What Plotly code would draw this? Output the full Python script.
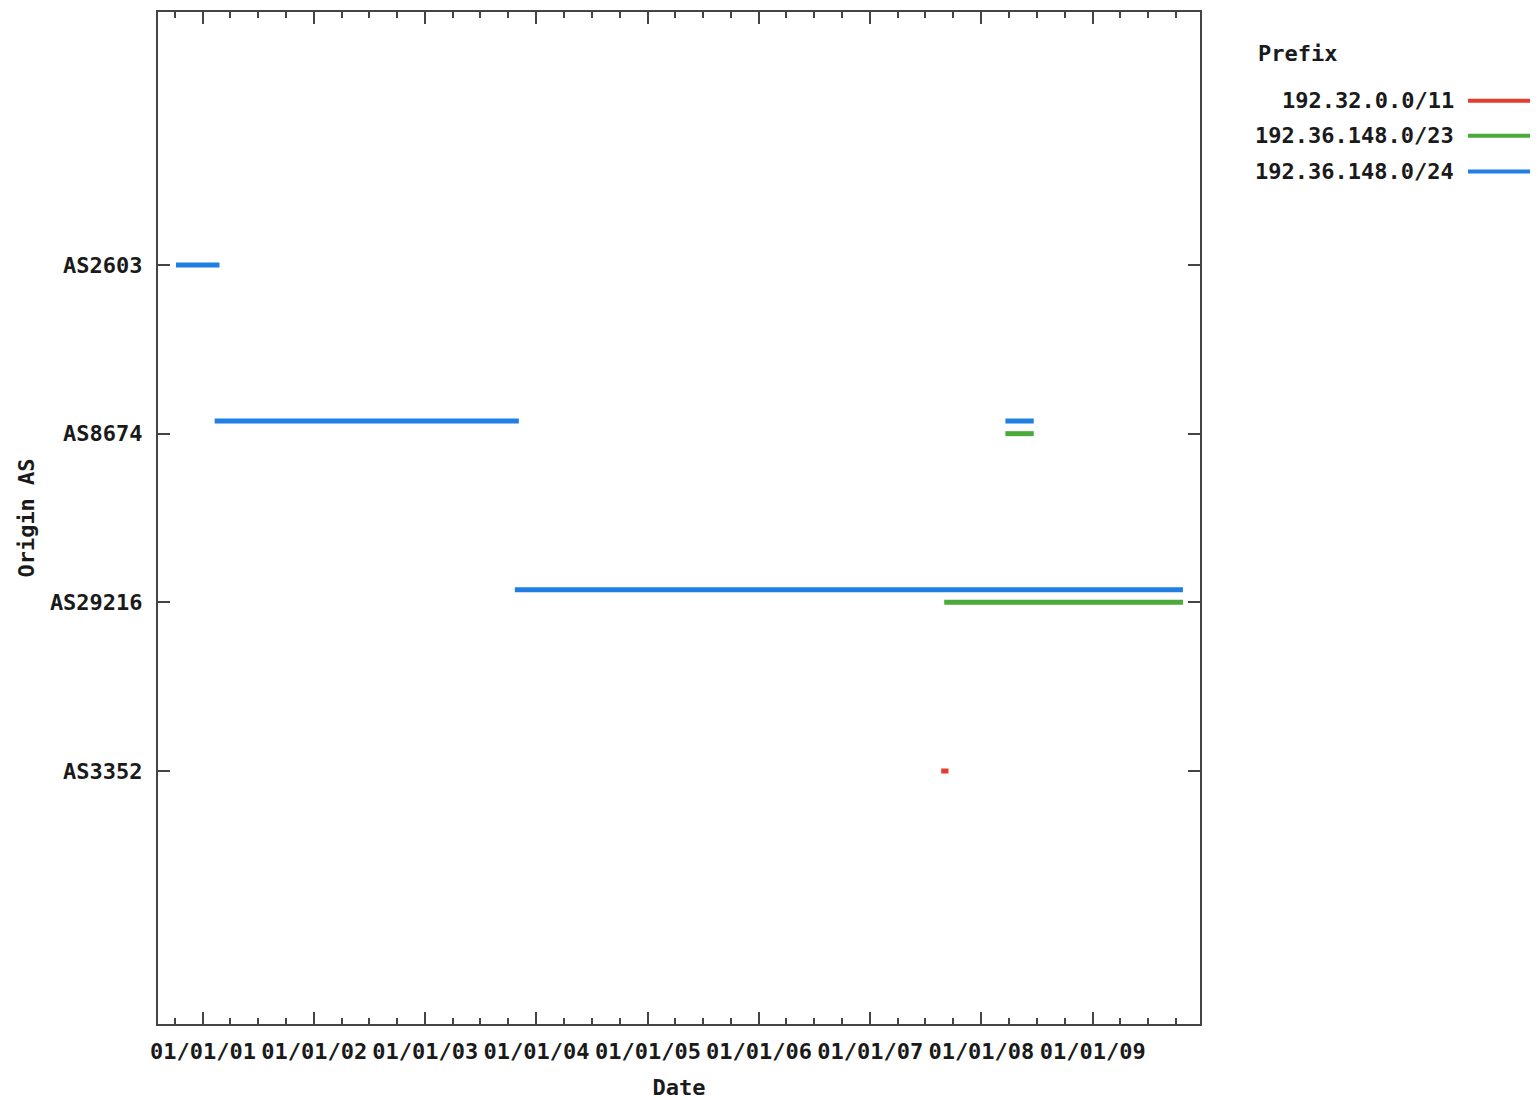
import plotly.graph_objects as go

# ---- data ----
as_labels = ["AS3352", "AS29216", "AS8674", "AS2603"]   # bottom to top
prefixes = ["192.32.0.0/11", "192.36.148.0/23", "192.36.148.0/24"]
prefix_colors = ["#e23d2e", "#4aab3a", "#1f7fe3"]

seg_prefix = ["192.36.148.0/24", "192.36.148.0/24", "192.36.148.0/24", "192.36.148.0/24",
              "192.36.148.0/23", "192.36.148.0/23", "192.32.0.0/11"]
seg_as = ["AS2603", "AS8674", "AS29216", "AS8674",
          "AS29216", "AS8674", "AS3352"]
seg_start = ["2000-10-04", "2001-02-08", "2003-10-22", "2008-03-20",
             "2007-09-01", "2008-03-20", "2007-08-22"]
seg_end = ["2001-02-24", "2003-11-04", "2009-10-24", "2008-06-21",
           "2009-10-24", "2008-06-21", "2007-09-15"]

tick_dates = ["2001-01-01", "2002-01-01", "2003-01-01", "2004-01-01", "2005-01-01",
              "2006-01-01", "2007-01-01", "2008-01-01", "2009-01-01"]
x_range = ["2000-08-06", "2009-12-19"]

# ---- layout constants (page has an 8px body margin) ----
PAGE = 8
W, H = 1538 - PAGE, 1100 - PAGE
L, R, T, B = 158 - PAGE, 1200 - PAGE, 10 - PAGE, 1025 - PAGE
FONT = "DejaVu Sans Mono"
FS = 22
TXT = "#1a1a1a"
OFFSET_STEP = 0.075

# y offset per (AS, prefix) based on rank of prefix within that AS
as_pos = {a: i + 1 for i, a in enumerate(as_labels)}
offset = {}
for a in as_labels:
    present = [p for p in prefixes if any(sp == p and sa == a for sp, sa in zip(seg_prefix, seg_as))]
    for k, p in enumerate(present):
        offset[(a, p)] = k * OFFSET_STEP

fig = go.Figure()
for p, c in zip(prefixes, prefix_colors):
    xs, ys = [], []
    for sp, sa, s0, s1 in zip(seg_prefix, seg_as, seg_start, seg_end):
        if sp != p:
            continue
        y = as_pos[sa] + offset[(sa, p)]
        xs += [s0, s1, None]
        ys += [y, y, None]
    fig.add_trace(go.Scatter(x=xs, y=ys, mode="lines", name=p,
                             line=dict(color=c, width=5), showlegend=False))

axis_common = dict(
    showline=True, linecolor="#444", linewidth=2, mirror="allticks",
    ticks="inside", tickcolor="#444", showgrid=False, zeroline=False,
    tickfont=dict(family=FONT, size=FS, color=TXT, weight="bold"),
)

fig.update_xaxes(
    type="date", range=x_range, tickvals=tick_dates, tickformat="%m/%d/%y",
    ticklen=12, tickwidth=2, ticklabelstandoff=7,
    minor=dict(dtick="M3", tick0="2001-01-01", ticks="inside", ticklen=6,
               tickcolor="#444", tickwidth=2),
    title=dict(text="Date", font=dict(family=FONT, size=FS, color=TXT, weight="bold"),
               standoff=18),
    **axis_common,
)
fig.update_yaxes(
    range=[-0.5, 5.5], tickvals=[as_pos[a] for a in as_labels], ticktext=as_labels,
    ticklen=12, tickwidth=2, ticklabelstandoff=9,
    title=dict(text="Origin AS", font=dict(family=FONT, size=FS, color=TXT, weight="bold"),
               standoff=9),
    **axis_common,
)

# ---- custom gnuplot-style legend (text right-aligned, sample on right) ----
def px(x):
    return (x - PAGE - L) / (R - L)

def py(y):
    return (B - (y - PAGE)) / (B - T)

annotations = [dict(text="Prefix", x=px(1256), y=py(52), xref="paper", yref="paper",
                    xanchor="left", yanchor="middle", showarrow=False,
                    font=dict(family=FONT, size=FS, color=TXT, weight="bold"))]
shapes = []
legend_rows = [99, 134, 170]
for p, c, yy in zip(prefixes, prefix_colors, legend_rows):
    annotations.append(dict(text=p, x=px(1456), y=py(yy), xref="paper", yref="paper",
                            xanchor="right", yanchor="middle", showarrow=False,
                            font=dict(family=FONT, size=FS, color=TXT, weight="bold")))
    shapes.append(dict(type="line", xref="paper", yref="paper",
                       x0=px(1468), x1=px(1530), y0=py(yy), y1=py(yy),
                       line=dict(color=c, width=4)))

fig.update_layout(
    width=W, height=H, autosize=False,
    margin=dict(l=L, r=W - R, t=T, b=H - B, pad=0),
    plot_bgcolor="white", paper_bgcolor="white",
    annotations=annotations, shapes=shapes, showlegend=False,
)

fig.write_html("out.html")
